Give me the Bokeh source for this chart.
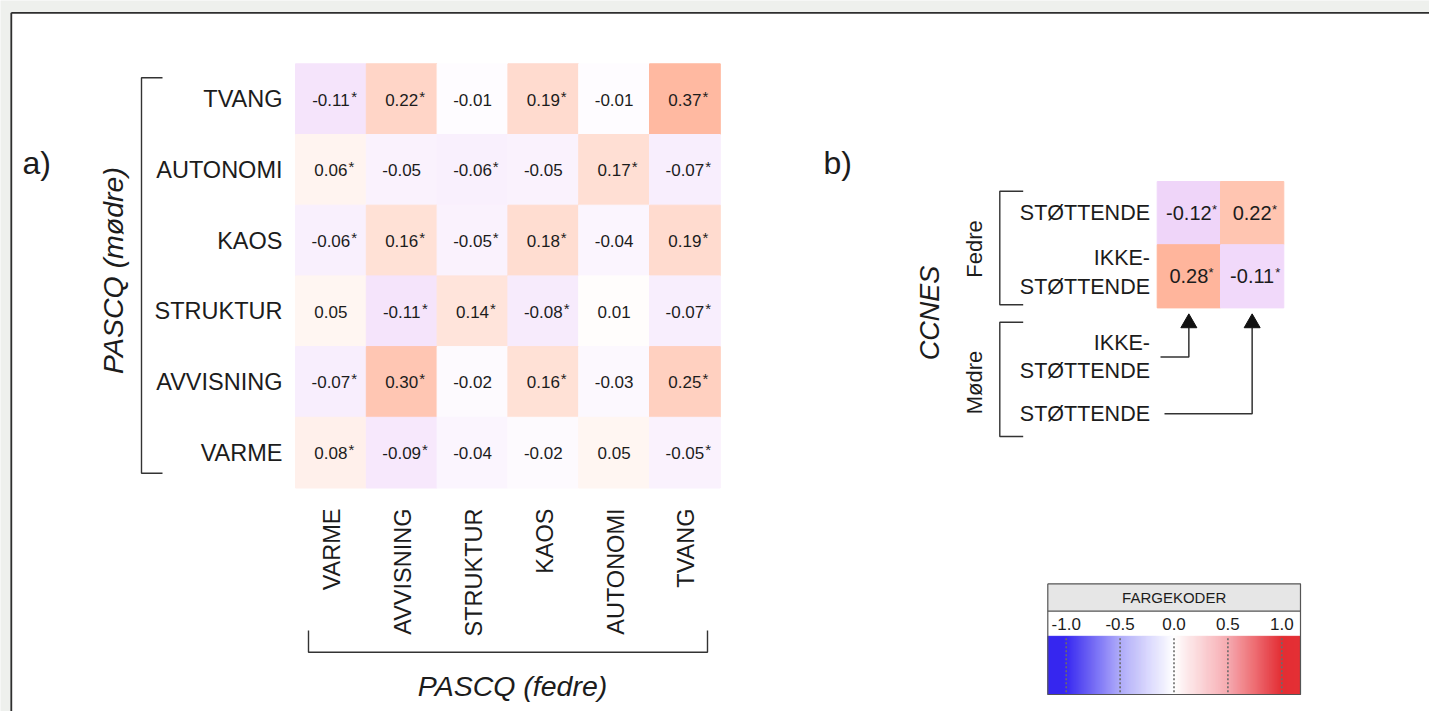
import math
from bokeh.plotting import figure
from bokeh.models import Range1d
from bokeh.core.properties import value
from bokeh.embed import file_html
from bokeh.resources import INLINE

# ---------------- data ----------------
rows_a = ["TVANG", "AUTONOMI", "KAOS", "STRUKTUR", "AVVISNING", "VARME"]      # top -> bottom (mødre)
cols_a = ["VARME", "AVVISNING", "STRUKTUR", "KAOS", "AUTONOMI", "TVANG"]      # left -> right (fedre)
vals_a = [
    [-0.11, 0.22, -0.01, 0.19, -0.01, 0.37],
    [0.06, -0.05, -0.06, -0.05, 0.17, -0.07],
    [-0.06, 0.16, -0.05, 0.18, -0.04, 0.19],
    [0.05, -0.11, 0.14, -0.08, 0.01, -0.07],
    [-0.07, 0.30, -0.02, 0.16, -0.03, 0.25],
    [0.08, -0.09, -0.04, -0.02, 0.05, -0.05],
]
sig_a = [
    [1, 1, 0, 1, 0, 1],
    [1, 0, 1, 0, 1, 1],
    [1, 1, 1, 1, 0, 1],
    [0, 1, 1, 1, 0, 1],
    [1, 1, 0, 1, 0, 1],
    [1, 1, 0, 0, 0, 1],
]
row_title_a = "PASCQ (mødre)"
col_title_a = "PASCQ (fedre)"
panel_a = "a)"

rows_b = [["STØTTENDE"], ["IKKE-", "STØTTENDE"]]       # fedre, top -> bottom
cols_b = [["IKKE-", "STØTTENDE"], ["STØTTENDE"]]       # mødre, left -> right (arrows)
vals_b = [[-0.12, 0.22], [0.28, -0.11]]
sig_b = [[1, 1], [1, 1]]
row_group_b = "Fedre"
col_group_b = "Mødre"
title_b = "CCNES"
panel_b = "b)"

cbar_title = "FARGEKODER"
cbar_ticks = [-1.0, -0.5, 0.0, 0.5, 1.0]
cbar_tick_labels = ["-1.0", "-0.5", "0.0", "0.5", "1.0"]

# ---------------- styles ----------------
FONT = value("Liberation Sans")
TXT = "#1c1c1c"
LINE = "#333333"
PAGE_BG = "#eef0ed"
POS_END = (255, 160, 128)
NEG_END = (208, 130, 238)
CB_STOPS_V = [-1.0, -0.5, 0.0, 0.5, 1.0]
CB_STOPS_C = [(48, 32, 240), (172, 168, 250), (255, 255, 255), (246, 168, 174), (226, 38, 44)]

CW_METRIC = {"0": .556, "1": .556, "2": .556, "3": .556, "4": .556, "5": .556,
             "6": .556, "7": .556, "8": .556, "9": .556, ".": .278, "-": .333}


def twidth(s, fs):
    return sum(CW_METRIC.get(ch, .6) for ch in s) * fs


def hexc(rgb):
    return "#%02x%02x%02x" % tuple(int(round(max(0, min(255, c)))) for c in rgb)


def cell_color(v, vmax):
    t = min(abs(v) / vmax, 1.0)
    end = POS_END if v > 0 else NEG_END
    return hexc(tuple(255 + (e - 255) * t for e in end))


def cb_color(v):
    v = max(-1.0, min(1.0, v))
    for i in range(len(CB_STOPS_V) - 1):
        a, b = CB_STOPS_V[i], CB_STOPS_V[i + 1]
        if a <= v <= b:
            t = (v - a) / (b - a)
            ca, cb = CB_STOPS_C[i], CB_STOPS_C[i + 1]
            return hexc(tuple(ca[k] + (cb[k] - ca[k]) * t for k in range(3)))
    return hexc(CB_STOPS_C[-1])


W, H = 1429, 711
p = figure(width=W, height=H, x_range=Range1d(0, W), y_range=Range1d(H, 0),
           x_axis_type=None, y_axis_type=None, output_backend="svg",
           toolbar_location=None, min_border=0)
p.outline_line_color = None
p.background_fill_color = PAGE_BG
p.border_fill_color = PAGE_BG
p.grid.visible = False

# white panel with top/left border
p.quad(left=[10.8], right=[1440], top=[12.3], bottom=[720], fill_color="white", line_color=None)
p.line([10.8, 1440], [12.3, 12.3], line_color="#2e2e2e", line_width=1.8)
p.line([10.8, 10.8], [12.3, 720], line_color="#2e2e2e", line_width=1.8)


def text(x, y, t, fs, align="left", angle=0.0, italic=False, color=TXT):
    # (x, y) is the centre line of the capitals (empirically how the anchor renders)
    p.text(x=x, y=y, text=t, text_font=FONT, text_font_size="%gpx" % fs,
           text_align=align, text_baseline="alphabetic", angle=angle,
           text_color=color, text_font_style="italic" if italic else "normal")


# ---------------- panel a ----------------
AX0, AY0, ACW, ACH = 295.0, 63.3, 70.8, 70.7
VMAX_A = 0.5
NUM_A, AST_A, LAB_A = 17, 15, 23.5
L, R, T, B, C = [], [], [], [], []
nx, ny, nt, sx, sy = [], [], [], [], []
for r, row in enumerate(rows_a):
    for c, col in enumerate(cols_a):
        v = vals_a[r][c]
        L.append(AX0 + c * ACW); R.append(AX0 + (c + 1) * ACW)
        T.append(AY0 + r * ACH); B.append(AY0 + (r + 1) * ACH)
        C.append(cell_color(v, VMAX_A))
        cx = AX0 + (c + .5) * ACW
        cy = AY0 + (r + .5) * ACH
        s = "%.2f" % v
        nx.append(cx); ny.append(cy + 0.5); nt.append(s)
        if sig_a[r][c]:
            sx.append(cx + twidth(s, NUM_A) / 2 + 1.0); sy.append(cy - 3.0)
p.quad(left=L, right=R, top=T, bottom=B, fill_color=C, line_color=C, line_width=1)
text(nx, ny, nt, NUM_A, "center")
text(sx, sy, ["*"] * len(sx), AST_A, "left")

# row labels
text([282] * len(rows_a), [AY0 + (r + .5) * ACH for r in range(len(rows_a))],
     rows_a, LAB_A, "right")
# column labels (rotated)
text([AX0 + (c + .5) * ACW + 1.5 for c in range(len(cols_a))], [508] * len(cols_a),
     cols_a, LAB_A, "right", angle=math.pi / 2)

# brackets
p.line([162, 141, 141, 162], [77.3, 77.3, 472.7, 472.7], line_color=LINE, line_width=1.4)
p.line([308, 308, 707, 707], [630, 651.7, 651.7, 630], line_color=LINE, line_width=1.4)
text([112], [270], [row_title_a], 28.5, "center", angle=math.pi / 2, italic=True)
text([512], [685], [col_title_a], 28.5, "center", italic=True)
text([22], [162], [panel_a], 32, "left")

# ---------------- panel b ----------------
BX0, BY0, BCW, BCH = 1156.7, 181.0, 63.3, 63.2
VMAX_B = 0.36
NUM_B, AST_B, LAB_B = 20, 13, 21.5
L, R, T, B, C = [], [], [], [], []
nx, ny, nt, sx, sy = [], [], [], [], []
for r in range(len(rows_b)):
    for c in range(len(cols_b)):
        v = vals_b[r][c]
        L.append(BX0 + c * BCW); R.append(BX0 + (c + 1) * BCW)
        T.append(BY0 + r * BCH); B.append(BY0 + (r + 1) * BCH)
        C.append(cell_color(v, VMAX_B))
        cx = BX0 + (c + .5) * BCW
        cy = BY0 + (r + .5) * BCH
        s = "%.2f" % v
        nx.append(cx); ny.append(cy); nt.append(s)
        if sig_b[r][c]:
            sx.append(cx + twidth(s, NUM_B) / 2 + 0.3); sy.append(cy - 3.8)
p.quad(left=L, right=R, top=T, bottom=B, fill_color=C, line_color=C, line_width=1)
text(nx, ny, nt, NUM_B, "center")
text(sx, sy, ["*"] * len(sx), AST_B, "left")

LINE_GAP_B = 28.8
lx, ly, lt = [], [], []
row_shift = [0.0, -3.5]
for r, lines in enumerate(rows_b):
    cy = BY0 + (r + .5) * BCH + row_shift[r]
    n = len(lines)
    for k, t in enumerate(lines):
        lx.append(1149.5); lt.append(t)
        ly.append(cy + (k - (n - 1) / 2) * LINE_GAP_B)
block_cy = [356.5, 413.3]
arrow_start = [1160, 1164]
HEAD_BASE = 327.2
for c, lines in enumerate(cols_b):
    n = len(lines)
    for k, t in enumerate(lines):
        lx.append(1149.5); lt.append(t)
        ly.append(block_cy[c] + (k - (n - 1) / 2) * LINE_GAP_B)
    ccx = BX0 + (c + .5) * BCW
    p.line([arrow_start[c], ccx, ccx], [block_cy[c], block_cy[c], HEAD_BASE],
           line_color=LINE, line_width=1.5)
    p.scatter([ccx], [HEAD_BASE - 4.6], marker="triangle", size=16,
              fill_color="#111111", line_color="#111111")
text(lx, ly, lt, LAB_B, "right")

p.line([1022.7, 999.3, 999.3, 1022.7], [190.7, 190.7, 304.3, 304.3], line_color=LINE, line_width=1.4)
p.line([1022.7, 999.3, 999.3, 1022.7], [321.7, 321.7, 436, 436], line_color=LINE, line_width=1.4)
text([974], [248.5], [row_group_b], 22, "center", angle=math.pi / 2)
text([974], [382], [col_group_b], 22, "center", angle=math.pi / 2)
text([929], [312.5], [title_b], 27, "center", angle=math.pi / 2, italic=True)
text([823], [162], [panel_b], 32, "left")

# ---------------- colour key ----------------
KX0, KX1 = 1047.3, 1300.0
KY0, KYH, KYL, KY1 = 583.3, 610.7, 635.7, 694.0
ZERO_X, UNIT = 1173.5, 107.8
p.quad(left=[KX0], right=[KX1], top=[KY0], bottom=[KYH], fill_color="#e6e6e6", line_color=None)
n = 253
sl = [KX0 + i * (KX1 - KX0) / n for i in range(n)]
sr = [KX0 + (i + 1) * (KX1 - KX0) / n for i in range(n)]
sc = [cb_color(((a + b) / 2 - ZERO_X) / UNIT) for a, b in zip(sl, sr)]
p.quad(left=sl, right=sr, top=[KYL] * n, bottom=[KY1] * n, fill_color=sc, line_color=sc, line_width=0.6)
tx = [ZERO_X + v * UNIT for v in cbar_ticks]
p.segment(x0=tx, y0=[KYL + 2] * len(tx), x1=tx, y1=[KY1 - 2] * len(tx),
          line_color="#6b6b6b", line_width=1.6, line_dash="2 2")
p.line([KX0, KX1, KX1, KX0, KX0], [KY0, KY0, KY1, KY1, KY0], line_color="#555555", line_width=1.2)
p.line([KX0, KX1], [KYH, KYH], line_color="#555555", line_width=1.2)
text([(KX0 + KX1) / 2], [(KY0 + KYH) / 2], [cbar_title], 15, "center")
text(tx, [623.3] * len(tx), cbar_tick_labels, 17, "center")

open("out.html", "w").write(file_html(p, INLINE))
